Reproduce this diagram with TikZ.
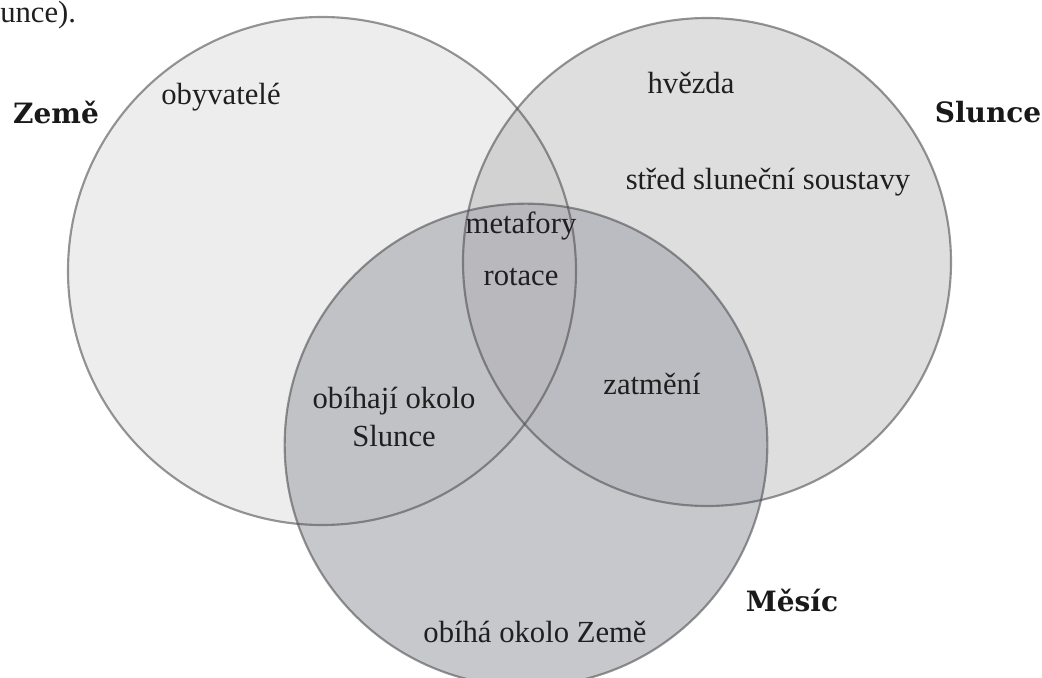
\documentclass[tikz,border=0pt]{standalone}
\usepackage{fontspec}
\setmainfont{Liberation Serif}
\newfontfamily\setfont{DejaVu Serif}
\usetikzlibrary{positioning}
\definecolor{zfill}{RGB}{128,128,130}
\definecolor{sfill}{RGB}{155,156,160}
\definecolor{mfill}{RGB}{171,172,178}
\definecolor{rimc}{RGB}{80,80,82}
\tikzstyle{set}=[circle,inner sep=0pt,draw=none]
\tikzstyle{zs}=[set,fill=zfill,fill opacity=0.14,minimum size=381pt]
\tikzstyle{ss}=[set,fill=sfill,fill opacity=0.333,minimum size=366pt]
\tikzstyle{ms}=[set,fill=mfill,fill opacity=0.667,minimum size=362pt]
\tikzstyle{rim}=[draw=rimc,line width=1.6pt,draw opacity=0.6]
\tikzstyle{item}=[inner sep=0pt,text=black!88,font=\fontsize{23}{29}\selectfont,align=center]
\tikzstyle{title}=[inner sep=0pt,text=black!90,font=\setfont\bfseries\fontsize{21}{24}\selectfont]

\begin{document}
\begin{tikzpicture}[x=0.75pt,y=-0.75pt]
    \useasboundingbox (0,0) rectangle (1042,678);
    \node (zeme) [zs] at (322,271) {};
    \node (slunce) [ss] at (707,262) {};
    \node (mesic) [ms] at (526,445) {};
    \draw[rim] (zeme.center) circle[radius=190.5pt];
    \draw[rim] (slunce.center) circle[radius=183pt];
    \draw[rim] (mesic.center) circle[radius=181pt];

    \node (tzeme) [title] at (56,112) {Země};
    \node (tslunce) [title] at (988,112) {Slunce};
    \node (tmesic) [title] at (792,600) {Měsíc};

    \node (obyv) [item] at (221,97) {obyvatelé};
    \node (hvezda) [item] at (691,83) {hvězda};
    \node (stred) [item] at (768,182) {střed sluneční soustavy};
    \node (meta) [item] at (521,226) {metafory};
    \node (rot) [item] at (521,277) {rotace};
    \node (obihaji) [item] at (394,417) {obíhají okolo\\Slunce};
    \node (zatm) [item] at (652,384) {zatmění};
    \node (obiha) [item] at (535,632) {obíhá okolo Země};
    \node (cut) [item,anchor=north west] at (0,1) {unce).};
  \end{tikzpicture}
\end{document}
